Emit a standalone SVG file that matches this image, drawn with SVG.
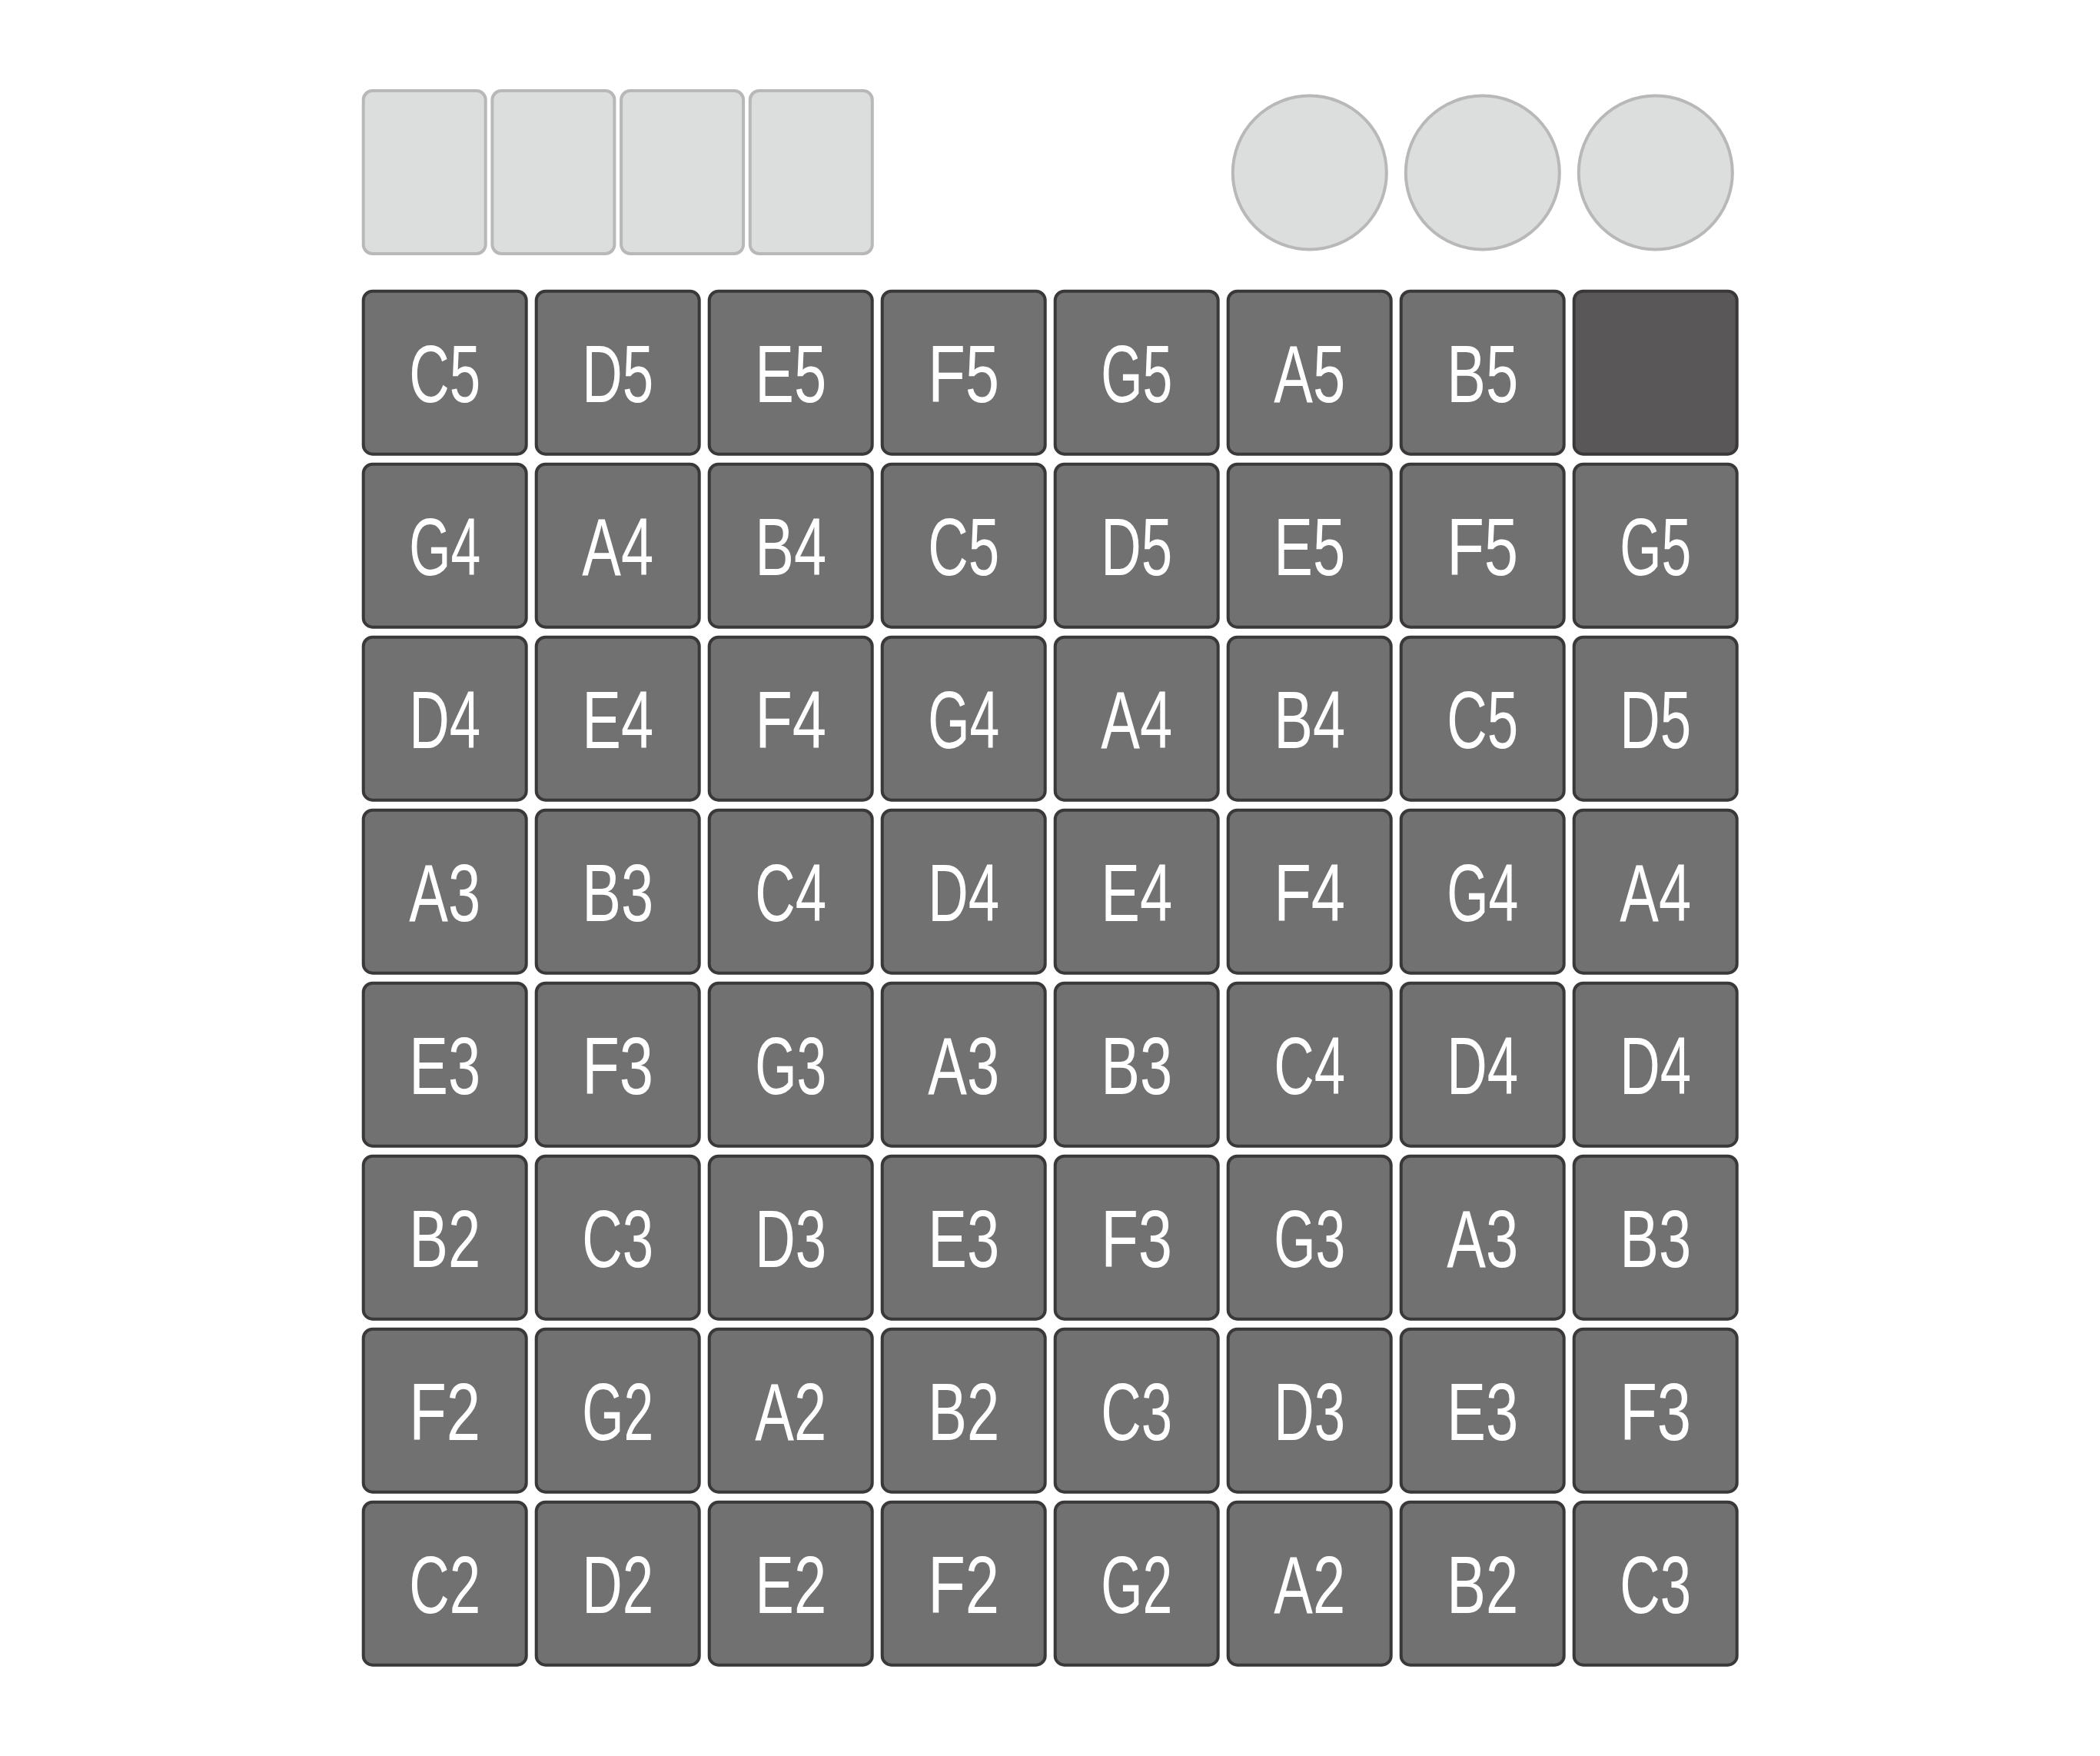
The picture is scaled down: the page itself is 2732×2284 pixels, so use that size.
<svg xmlns="http://www.w3.org/2000/svg" width="2732" height="2284" viewBox="0 0 2732 2284">
<style>
.bg{fill:#ffffff}
.btn rect,.knob circle{fill:#dcdedd;stroke:#b8b8b8;stroke-width:4}
.pad rect{fill:#717171;stroke:#3a3838;stroke-width:4}
.pad.off rect{fill:#595758}
.pad text{fill:#ffffff;font-family:"Liberation Sans Narrow","Liberation Sans",Arial,sans-serif;font-size:105px;text-anchor:middle}
</style>
<rect class="bg" x="0" y="0" width="2732" height="2284"/>
<g id="buttons">
<g id="btn1" class="btn"><rect x="472.7" y="118" width="159" height="212" rx="12"/></g>
<g id="btn2" class="btn"><rect x="640.4" y="118" width="159" height="212" rx="12"/></g>
<g id="btn3" class="btn"><rect x="808.1" y="118" width="159" height="212" rx="12"/></g>
<g id="btn4" class="btn"><rect x="975.8" y="118" width="159" height="212" rx="12"/></g>
</g>
<g id="knobs">
<g id="knob1" class="knob"><circle cx="1703.8" cy="224.5" r="100"/></g>
<g id="knob2" class="knob"><circle cx="1928.8" cy="224.5" r="100"/></g>
<g id="knob3" class="knob"><circle cx="2153.8" cy="224.5" r="100"/></g>
</g>
<g id="pads">
<g id="pad-r0c0" class="pad" transform="translate(472.7,378.7)"><rect width="212" height="212" rx="12"/><text x="106" y="144.6" textLength="93" lengthAdjust="spacingAndGlyphs">C5</text></g>
<g id="pad-r0c1" class="pad" transform="translate(697.7,378.7)"><rect width="212" height="212" rx="12"/><text x="106" y="144.6" textLength="93" lengthAdjust="spacingAndGlyphs">D5</text></g>
<g id="pad-r0c2" class="pad" transform="translate(922.7,378.7)"><rect width="212" height="212" rx="12"/><text x="106" y="144.6" textLength="93" lengthAdjust="spacingAndGlyphs">E5</text></g>
<g id="pad-r0c3" class="pad" transform="translate(1147.7,378.7)"><rect width="212" height="212" rx="12"/><text x="106" y="144.6" textLength="93" lengthAdjust="spacingAndGlyphs">F5</text></g>
<g id="pad-r0c4" class="pad" transform="translate(1372.7,378.7)"><rect width="212" height="212" rx="12"/><text x="106" y="144.6" textLength="93" lengthAdjust="spacingAndGlyphs">G5</text></g>
<g id="pad-r0c5" class="pad" transform="translate(1597.7,378.7)"><rect width="212" height="212" rx="12"/><text x="106" y="144.6" textLength="93" lengthAdjust="spacingAndGlyphs">A5</text></g>
<g id="pad-r0c6" class="pad" transform="translate(1822.7,378.7)"><rect width="212" height="212" rx="12"/><text x="106" y="144.6" textLength="93" lengthAdjust="spacingAndGlyphs">B5</text></g>
<g id="pad-r0c7" class="pad off" transform="translate(2047.7,378.7)"><rect width="212" height="212" rx="12"/></g>

<g id="pad-r1c0" class="pad" transform="translate(472.7,603.7)"><rect width="212" height="212" rx="12"/><text x="106" y="144.6" textLength="93" lengthAdjust="spacingAndGlyphs">G4</text></g>
<g id="pad-r1c1" class="pad" transform="translate(697.7,603.7)"><rect width="212" height="212" rx="12"/><text x="106" y="144.6" textLength="93" lengthAdjust="spacingAndGlyphs">A4</text></g>
<g id="pad-r1c2" class="pad" transform="translate(922.7,603.7)"><rect width="212" height="212" rx="12"/><text x="106" y="144.6" textLength="93" lengthAdjust="spacingAndGlyphs">B4</text></g>
<g id="pad-r1c3" class="pad" transform="translate(1147.7,603.7)"><rect width="212" height="212" rx="12"/><text x="106" y="144.6" textLength="93" lengthAdjust="spacingAndGlyphs">C5</text></g>
<g id="pad-r1c4" class="pad" transform="translate(1372.7,603.7)"><rect width="212" height="212" rx="12"/><text x="106" y="144.6" textLength="93" lengthAdjust="spacingAndGlyphs">D5</text></g>
<g id="pad-r1c5" class="pad" transform="translate(1597.7,603.7)"><rect width="212" height="212" rx="12"/><text x="106" y="144.6" textLength="93" lengthAdjust="spacingAndGlyphs">E5</text></g>
<g id="pad-r1c6" class="pad" transform="translate(1822.7,603.7)"><rect width="212" height="212" rx="12"/><text x="106" y="144.6" textLength="93" lengthAdjust="spacingAndGlyphs">F5</text></g>
<g id="pad-r1c7" class="pad" transform="translate(2047.7,603.7)"><rect width="212" height="212" rx="12"/><text x="106" y="144.6" textLength="93" lengthAdjust="spacingAndGlyphs">G5</text></g>

<g id="pad-r2c0" class="pad" transform="translate(472.7,828.7)"><rect width="212" height="212" rx="12"/><text x="106" y="144.6" textLength="93" lengthAdjust="spacingAndGlyphs">D4</text></g>
<g id="pad-r2c1" class="pad" transform="translate(697.7,828.7)"><rect width="212" height="212" rx="12"/><text x="106" y="144.6" textLength="93" lengthAdjust="spacingAndGlyphs">E4</text></g>
<g id="pad-r2c2" class="pad" transform="translate(922.7,828.7)"><rect width="212" height="212" rx="12"/><text x="106" y="144.6" textLength="93" lengthAdjust="spacingAndGlyphs">F4</text></g>
<g id="pad-r2c3" class="pad" transform="translate(1147.7,828.7)"><rect width="212" height="212" rx="12"/><text x="106" y="144.6" textLength="93" lengthAdjust="spacingAndGlyphs">G4</text></g>
<g id="pad-r2c4" class="pad" transform="translate(1372.7,828.7)"><rect width="212" height="212" rx="12"/><text x="106" y="144.6" textLength="93" lengthAdjust="spacingAndGlyphs">A4</text></g>
<g id="pad-r2c5" class="pad" transform="translate(1597.7,828.7)"><rect width="212" height="212" rx="12"/><text x="106" y="144.6" textLength="93" lengthAdjust="spacingAndGlyphs">B4</text></g>
<g id="pad-r2c6" class="pad" transform="translate(1822.7,828.7)"><rect width="212" height="212" rx="12"/><text x="106" y="144.6" textLength="93" lengthAdjust="spacingAndGlyphs">C5</text></g>
<g id="pad-r2c7" class="pad" transform="translate(2047.7,828.7)"><rect width="212" height="212" rx="12"/><text x="106" y="144.6" textLength="93" lengthAdjust="spacingAndGlyphs">D5</text></g>

<g id="pad-r3c0" class="pad" transform="translate(472.7,1053.7)"><rect width="212" height="212" rx="12"/><text x="106" y="144.6" textLength="93" lengthAdjust="spacingAndGlyphs">A3</text></g>
<g id="pad-r3c1" class="pad" transform="translate(697.7,1053.7)"><rect width="212" height="212" rx="12"/><text x="106" y="144.6" textLength="93" lengthAdjust="spacingAndGlyphs">B3</text></g>
<g id="pad-r3c2" class="pad" transform="translate(922.7,1053.7)"><rect width="212" height="212" rx="12"/><text x="106" y="144.6" textLength="93" lengthAdjust="spacingAndGlyphs">C4</text></g>
<g id="pad-r3c3" class="pad" transform="translate(1147.7,1053.7)"><rect width="212" height="212" rx="12"/><text x="106" y="144.6" textLength="93" lengthAdjust="spacingAndGlyphs">D4</text></g>
<g id="pad-r3c4" class="pad" transform="translate(1372.7,1053.7)"><rect width="212" height="212" rx="12"/><text x="106" y="144.6" textLength="93" lengthAdjust="spacingAndGlyphs">E4</text></g>
<g id="pad-r3c5" class="pad" transform="translate(1597.7,1053.7)"><rect width="212" height="212" rx="12"/><text x="106" y="144.6" textLength="93" lengthAdjust="spacingAndGlyphs">F4</text></g>
<g id="pad-r3c6" class="pad" transform="translate(1822.7,1053.7)"><rect width="212" height="212" rx="12"/><text x="106" y="144.6" textLength="93" lengthAdjust="spacingAndGlyphs">G4</text></g>
<g id="pad-r3c7" class="pad" transform="translate(2047.7,1053.7)"><rect width="212" height="212" rx="12"/><text x="106" y="144.6" textLength="93" lengthAdjust="spacingAndGlyphs">A4</text></g>

<g id="pad-r4c0" class="pad" transform="translate(472.7,1278.7)"><rect width="212" height="212" rx="12"/><text x="106" y="144.6" textLength="93" lengthAdjust="spacingAndGlyphs">E3</text></g>
<g id="pad-r4c1" class="pad" transform="translate(697.7,1278.7)"><rect width="212" height="212" rx="12"/><text x="106" y="144.6" textLength="93" lengthAdjust="spacingAndGlyphs">F3</text></g>
<g id="pad-r4c2" class="pad" transform="translate(922.7,1278.7)"><rect width="212" height="212" rx="12"/><text x="106" y="144.6" textLength="93" lengthAdjust="spacingAndGlyphs">G3</text></g>
<g id="pad-r4c3" class="pad" transform="translate(1147.7,1278.7)"><rect width="212" height="212" rx="12"/><text x="106" y="144.6" textLength="93" lengthAdjust="spacingAndGlyphs">A3</text></g>
<g id="pad-r4c4" class="pad" transform="translate(1372.7,1278.7)"><rect width="212" height="212" rx="12"/><text x="106" y="144.6" textLength="93" lengthAdjust="spacingAndGlyphs">B3</text></g>
<g id="pad-r4c5" class="pad" transform="translate(1597.7,1278.7)"><rect width="212" height="212" rx="12"/><text x="106" y="144.6" textLength="93" lengthAdjust="spacingAndGlyphs">C4</text></g>
<g id="pad-r4c6" class="pad" transform="translate(1822.7,1278.7)"><rect width="212" height="212" rx="12"/><text x="106" y="144.6" textLength="93" lengthAdjust="spacingAndGlyphs">D4</text></g>
<g id="pad-r4c7" class="pad" transform="translate(2047.7,1278.7)"><rect width="212" height="212" rx="12"/><text x="106" y="144.6" textLength="93" lengthAdjust="spacingAndGlyphs">D4</text></g>

<g id="pad-r5c0" class="pad" transform="translate(472.7,1503.7)"><rect width="212" height="212" rx="12"/><text x="106" y="144.6" textLength="93" lengthAdjust="spacingAndGlyphs">B2</text></g>
<g id="pad-r5c1" class="pad" transform="translate(697.7,1503.7)"><rect width="212" height="212" rx="12"/><text x="106" y="144.6" textLength="93" lengthAdjust="spacingAndGlyphs">C3</text></g>
<g id="pad-r5c2" class="pad" transform="translate(922.7,1503.7)"><rect width="212" height="212" rx="12"/><text x="106" y="144.6" textLength="93" lengthAdjust="spacingAndGlyphs">D3</text></g>
<g id="pad-r5c3" class="pad" transform="translate(1147.7,1503.7)"><rect width="212" height="212" rx="12"/><text x="106" y="144.6" textLength="93" lengthAdjust="spacingAndGlyphs">E3</text></g>
<g id="pad-r5c4" class="pad" transform="translate(1372.7,1503.7)"><rect width="212" height="212" rx="12"/><text x="106" y="144.6" textLength="93" lengthAdjust="spacingAndGlyphs">F3</text></g>
<g id="pad-r5c5" class="pad" transform="translate(1597.7,1503.7)"><rect width="212" height="212" rx="12"/><text x="106" y="144.6" textLength="93" lengthAdjust="spacingAndGlyphs">G3</text></g>
<g id="pad-r5c6" class="pad" transform="translate(1822.7,1503.7)"><rect width="212" height="212" rx="12"/><text x="106" y="144.6" textLength="93" lengthAdjust="spacingAndGlyphs">A3</text></g>
<g id="pad-r5c7" class="pad" transform="translate(2047.7,1503.7)"><rect width="212" height="212" rx="12"/><text x="106" y="144.6" textLength="93" lengthAdjust="spacingAndGlyphs">B3</text></g>

<g id="pad-r6c0" class="pad" transform="translate(472.7,1728.7)"><rect width="212" height="212" rx="12"/><text x="106" y="144.6" textLength="93" lengthAdjust="spacingAndGlyphs">F2</text></g>
<g id="pad-r6c1" class="pad" transform="translate(697.7,1728.7)"><rect width="212" height="212" rx="12"/><text x="106" y="144.6" textLength="93" lengthAdjust="spacingAndGlyphs">G2</text></g>
<g id="pad-r6c2" class="pad" transform="translate(922.7,1728.7)"><rect width="212" height="212" rx="12"/><text x="106" y="144.6" textLength="93" lengthAdjust="spacingAndGlyphs">A2</text></g>
<g id="pad-r6c3" class="pad" transform="translate(1147.7,1728.7)"><rect width="212" height="212" rx="12"/><text x="106" y="144.6" textLength="93" lengthAdjust="spacingAndGlyphs">B2</text></g>
<g id="pad-r6c4" class="pad" transform="translate(1372.7,1728.7)"><rect width="212" height="212" rx="12"/><text x="106" y="144.6" textLength="93" lengthAdjust="spacingAndGlyphs">C3</text></g>
<g id="pad-r6c5" class="pad" transform="translate(1597.7,1728.7)"><rect width="212" height="212" rx="12"/><text x="106" y="144.6" textLength="93" lengthAdjust="spacingAndGlyphs">D3</text></g>
<g id="pad-r6c6" class="pad" transform="translate(1822.7,1728.7)"><rect width="212" height="212" rx="12"/><text x="106" y="144.6" textLength="93" lengthAdjust="spacingAndGlyphs">E3</text></g>
<g id="pad-r6c7" class="pad" transform="translate(2047.7,1728.7)"><rect width="212" height="212" rx="12"/><text x="106" y="144.6" textLength="93" lengthAdjust="spacingAndGlyphs">F3</text></g>

<g id="pad-r7c0" class="pad" transform="translate(472.7,1953.7)"><rect width="212" height="212" rx="12"/><text x="106" y="144.6" textLength="93" lengthAdjust="spacingAndGlyphs">C2</text></g>
<g id="pad-r7c1" class="pad" transform="translate(697.7,1953.7)"><rect width="212" height="212" rx="12"/><text x="106" y="144.6" textLength="93" lengthAdjust="spacingAndGlyphs">D2</text></g>
<g id="pad-r7c2" class="pad" transform="translate(922.7,1953.7)"><rect width="212" height="212" rx="12"/><text x="106" y="144.6" textLength="93" lengthAdjust="spacingAndGlyphs">E2</text></g>
<g id="pad-r7c3" class="pad" transform="translate(1147.7,1953.7)"><rect width="212" height="212" rx="12"/><text x="106" y="144.6" textLength="93" lengthAdjust="spacingAndGlyphs">F2</text></g>
<g id="pad-r7c4" class="pad" transform="translate(1372.7,1953.7)"><rect width="212" height="212" rx="12"/><text x="106" y="144.6" textLength="93" lengthAdjust="spacingAndGlyphs">G2</text></g>
<g id="pad-r7c5" class="pad" transform="translate(1597.7,1953.7)"><rect width="212" height="212" rx="12"/><text x="106" y="144.6" textLength="93" lengthAdjust="spacingAndGlyphs">A2</text></g>
<g id="pad-r7c6" class="pad" transform="translate(1822.7,1953.7)"><rect width="212" height="212" rx="12"/><text x="106" y="144.6" textLength="93" lengthAdjust="spacingAndGlyphs">B2</text></g>
<g id="pad-r7c7" class="pad" transform="translate(2047.7,1953.7)"><rect width="212" height="212" rx="12"/><text x="106" y="144.6" textLength="93" lengthAdjust="spacingAndGlyphs">C3</text></g>
</g>
<g id="connectors"/>
</svg>
